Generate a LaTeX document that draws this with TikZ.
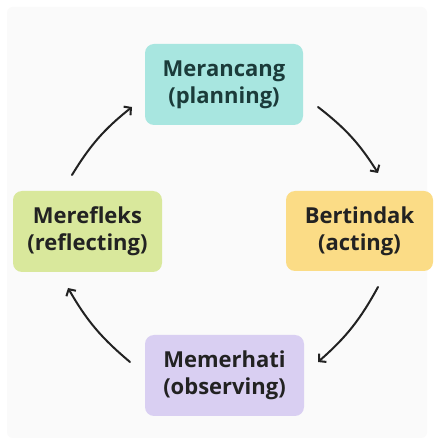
\documentclass[tikz,border=0pt]{standalone}
\usepackage{fontspec}
\setmainfont{Open Sans}
\usetikzlibrary{arrows.meta}
\definecolor{bgc}{HTML}{FAFAFA}
\definecolor{tealc}{HTML}{A8E6E0}
\definecolor{limec}{HTML}{D9E89C}
\definecolor{yelc}{HTML}{FBDC86}
\definecolor{lavc}{HTML}{D9CFF2}
\definecolor{txtc}{HTML}{222222}
\definecolor{ttxt}{HTML}{1B3B3A}
\tikzset{
  phase/.style={rounded corners=9pt, align=center, inner sep=0pt,
    font=\fontsize{22}{27}\selectfont\bfseries, text=txtc},
  cyc/.style={draw=txtc, line width=2pt, line cap=round,
    -{Straight Barb[length=5pt,width=11pt,line width=2pt]}, bend left=10}
}
\begin{document}
\begin{tikzpicture}[x=1pt,y=1pt]
\useasboundingbox (0,0) rectangle (434,445);
\fill[white] (0,0) rectangle (434,445);
\fill[bgc, rounded corners=6pt] (7,7) rectangle (427,438);
% boxes
\node[phase, fill=tealc, text=ttxt, minimum width=158pt, minimum height=81pt] (plan) at (224,360.5) {Merancang\\(planning)};
\node[phase, fill=limec, minimum width=149pt, minimum height=81pt] (refl) at (87.5,213.5) {Merefleks\\(reflecting)};
\node[phase, fill=yelc, minimum width=147pt, minimum height=80pt] (act) at (359.5,214) {Bertindak\\(acting)};
\node[phase, fill=lavc, minimum width=159pt, minimum height=81pt] (obs) at (224.5,69.5) {Memerhati\\(observing)};
% arrow endpoints
\coordinate (a1) at (72,270);
\coordinate (b1) at (132,338);
\coordinate (a2) at (318,338);
\coordinate (b2) at (378,272);
\coordinate (a3) at (378,158);
\coordinate (b3) at (318,83);
\coordinate (a4) at (130,83);
\coordinate (b4) at (68,157);
\draw[cyc] (a1) to (b1);
\draw[cyc] (a2) to (b2);
\draw[cyc] (a3) to (b3);
\draw[cyc] (a4) to (b4);
\end{tikzpicture}
\end{document}
